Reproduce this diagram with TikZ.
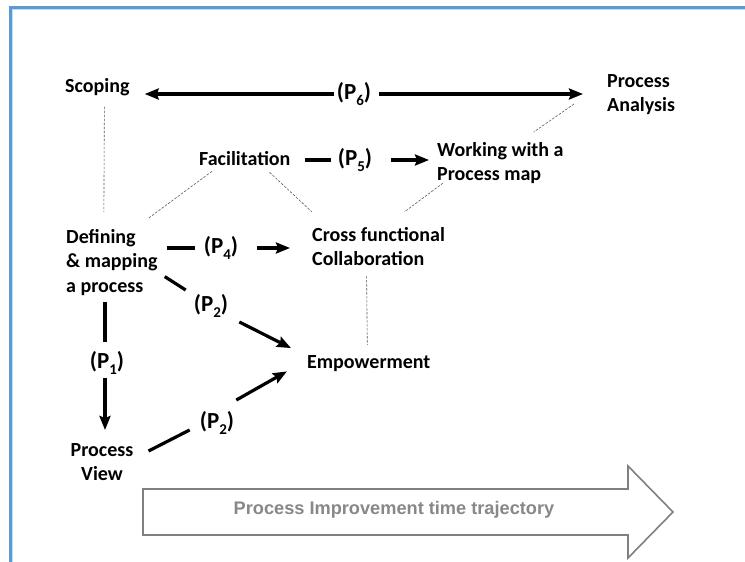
\documentclass[tikz,border=0pt]{standalone}
\usepackage{fontspec}
\setmainfont{Carlito}
\newfontfamily\arialf{Liberation Sans}
\usetikzlibrary{arrows.meta}
\definecolor{frameblue}{HTML}{5B9BD5}
\definecolor{lightblue}{HTML}{C5DCF0}
\definecolor{arrowgray}{HTML}{808080}
\definecolor{textgray}{HTML}{888888}
\newcommand\psub[1]{\raisebox{-0.28em}{\fontsize{15}{15}\selectfont #1}}
\begin{document}
\begin{tikzpicture}[x=1pt,y=-1pt,
  lab/.style={font=\fontsize{20}{24.5}\selectfont\bfseries, inner sep=0pt, align=left},
  plab/.style={font=\fontsize{23}{26}\selectfont\bfseries, inner sep=0pt},
  ln/.style={line width=3.2pt},
  arr/.style={line width=3.2pt, -{Stealth[length=14pt,width=11pt,inset=2pt]}},
  dot/.style={line width=0.6pt, black!65, dash pattern=on 2.5pt off 1.5pt}]
\useasboundingbox (0,0) rectangle (745,562);
% frame
\draw[lightblue, line width=1pt] (12.5,562) -- (12.5,9.5) -- (745,9.5);
\draw[frameblue, line width=3pt] (10.5,562) -- (10.5,7.5) -- (745,7.5);
% labels
\node[lab, anchor=base west] (scoping) at (65,92) {Scoping};
\node[lab, anchor=north west] (analysis) at (607,74) {Process\\Analysis};
\node[lab, anchor=base west] (facil) at (199,165) {Facilitation};
\node[lab, anchor=north west] (working) at (437,142) {Working with a\\Process map};
\node[lab, anchor=north west] (defining) at (66,229) {Defining\\\& mapping\\a process};
\node[lab, anchor=north west] (cross) at (312,227) {Cross functional\\Collaboration};
\node[lab, anchor=base west] (empower) at (307,368) {Empowerment};
\node[lab, align=center, anchor=north] (view) at (102,443) {Process\\View};
% P labels
\node[plab] (p6) at (354,94) {(P\psub{6})};
\node[plab] (p5) at (355,160) {(P\psub{5})};
\node[plab] (p4) at (221,248) {(P\psub{4})};
\node[plab] (p2a) at (211,306) {(P\psub{2})};
\node[plab] (p1) at (107,363) {(P\psub{1})};
\node[plab] (p2b) at (217,423) {(P\psub{2})};
% P6
\draw[arr] ([xshift=-3pt]p6.west) -- ([xshift=15pt]scoping.east |- p6);
\draw[arr] ([xshift=8pt]p6.east) -- ([xshift=-24pt]analysis.west |- p6);
% P5
\draw[ln] ([xshift=14pt]facil.east |- p5) -- ([xshift=-7pt]p5.west);
\draw[arr] ([xshift=19pt]p5.east) -- ([xshift=-8pt]working.west |- p5);
% P4
\draw[ln] ([xshift=9pt]defining.east |- p4) -- ([xshift=-9pt]p4.west);
\draw[arr] ([xshift=19pt]p4.east) -- ([xshift=-22pt]cross.west |- p4);
% P2 upper
\draw[ln] ([shift={(7,-19)}]defining.south east) -- ([shift={(-8,-4)}]p2a.north west);
\draw[arr] ([shift={(11,4)}]p2a.south east) -- ([shift={(-16,-15)}]empower.west);
% P1
\draw[ln] ([xshift=-2pt,yshift=-6pt]p1.north |- defining.south) -- ([xshift=-2pt,yshift=9pt]p1.north);
\draw[arr] ([xshift=-2pt,yshift=-3pt]p1.south) -- ([xshift=-2pt,yshift=13pt]p1.south |- view.north);
% P2 lower
\draw[ln] ([shift={(15,-11)}]view.east) -- ([shift={(-10,-5)}]p2b.south west);
\draw[arr] ([shift={(2,-11)}]p2b.north east) -- ([shift={(-20,0)}]empower.south west);
% dotted relations
\draw[dot] ([shift={(7,11)}]scoping.south) -- ([shift={(-8,-17)}]defining.north);
\draw[dot] ([shift={(-33,-11)}]analysis.south west) -- ([shift={(-30,-10)}]working.north east);
\draw[dot] ([shift={(13,6)}]facil.south west) -- ([shift={(-9,-11)}]defining.north east);
\draw[dot] ([shift={(-21,7)}]facil.south east) -- ([shift={(0,-15)}]cross.north west);
\draw[dot] ([shift={(6,-1)}]working.south west) -- ([shift={(-41,-15)}]cross.north east);
\draw[dot] ([shift={(-12,10)}]cross.south) -- ([shift={(-1.5,-10)}]empower.north);
% time trajectory arrow
\draw[arrowgray, line width=1.6pt, fill=white] (143,489) -- (628,489) -- (628,466) -- (673,512) -- (628,558) -- (628,535) -- (143,535) -- cycle;
\node[font=\arialf\bfseries\fontsize{18.2}{20}\selectfont, text=textgray, inner sep=0pt] (traj) at (394,510) {Process Improvement time trajectory};
\end{tikzpicture}
\end{document}
